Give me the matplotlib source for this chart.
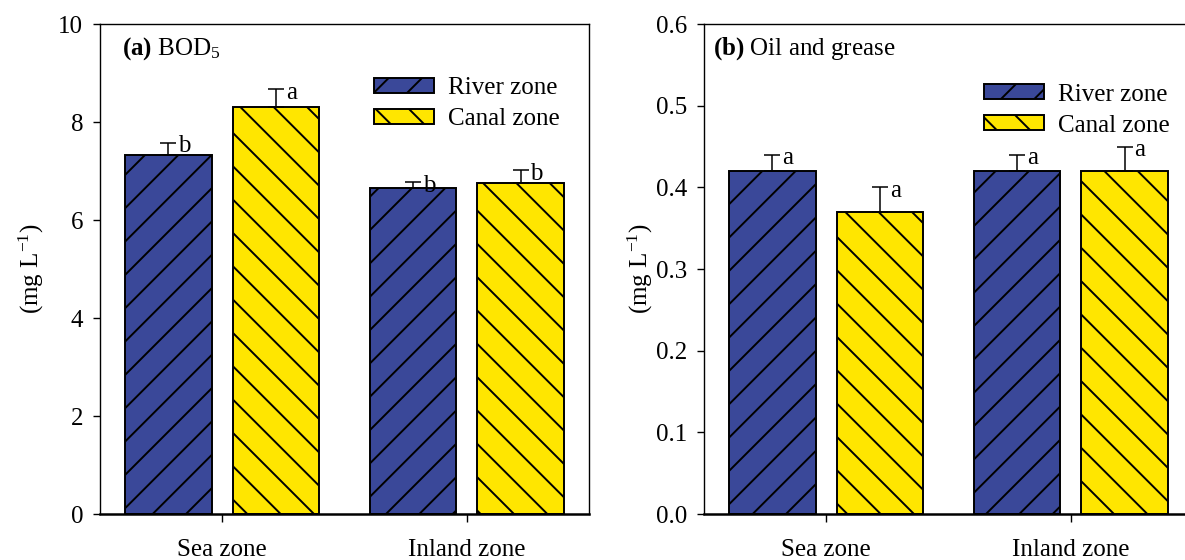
import numpy as np
import matplotlib
matplotlib.use("Agg")
from matplotlib import pyplot as plt

plt.rcParams['font.family'] = ['Liberation Serif', 'DejaVu Serif']
plt.rcParams['mathtext.fontset'] = 'custom'
plt.rcParams['mathtext.rm'] = 'Liberation Serif'
plt.rcParams['mathtext.it'] = 'Liberation Serif:italic'
plt.rcParams['mathtext.bf'] = 'Liberation Serif:bold'
plt.rcParams['hatch.linewidth'] = 1.4

# zones on the x axis
CATEGORIES = ['Sea zone', 'Inland zone']
SERIES = ['River zone', 'Canal zone']

# (a) BOD5, mg/L
BOD_RIVER = [7.33, 6.65]
BOD_RIVER_ERR = [0.25, 0.13]
BOD_CANAL = [8.31, 6.75]
BOD_CANAL_ERR = [0.36, 0.27]
BOD_RIVER_LETTERS = ['b', 'b']
BOD_CANAL_LETTERS = ['a', 'b']

# (b) oil and grease, mg/L
OIL_RIVER = [0.42, 0.42]
OIL_RIVER_ERR = [0.02, 0.02]
OIL_CANAL = [0.37, 0.42]
OIL_CANAL_ERR = [0.03, 0.03]
OIL_RIVER_LETTERS = ['a', 'a']
OIL_CANAL_LETTERS = ['a', 'a']

BLUE = '#3a4899'
YELLOW = '#ffe600'
WIDTH = 0.355
OFFSET = 0.22
FS = 18


def panel(ax, river, river_err, canal, canal_err, river_lab, canal_lab,
          title, ylim, yticks, fmt, title_x, leg_anchor):
    x = np.arange(len(CATEGORIES))
    ekw = dict(ecolor='black', elinewidth=1.1, capthick=1.1)
    ax.bar(x - OFFSET, river, WIDTH, color=BLUE, edgecolor='black',
           linewidth=1.4, hatch='/', label=SERIES[0],
           yerr=[np.zeros(len(river)), river_err], capsize=6, error_kw=ekw)
    ax.bar(x + OFFSET, canal, WIDTH, color=YELLOW, edgecolor='black',
           linewidth=1.4, hatch='\\', label=SERIES[1],
           yerr=[np.zeros(len(canal)), canal_err], capsize=6, error_kw=ekw)
    # significance letters just right of each cap
    for xi, v, e, lab in zip(x - OFFSET, river, river_err, river_lab):
        ax.annotate(lab, (xi, v + e), xytext=(7, -7), textcoords='offset points',
                    ha='left', va='baseline', fontsize=FS)
    for xi, v, e, lab in zip(x + OFFSET, canal, canal_err, canal_lab):
        ax.annotate(lab, (xi, v + e), xytext=(7, -7), textcoords='offset points',
                    ha='left', va='baseline', fontsize=FS)

    ax.set_xlim(-0.5, 1.5)
    ax.set_ylim(*ylim)
    ax.set_xticks(x)
    ax.set_xticklabels(CATEGORIES, fontsize=FS)
    ax.set_yticks(yticks)
    ax.set_yticklabels([fmt.format(t) for t in yticks], fontsize=FS)
    ax.tick_params(axis='x', length=6, width=1, pad=12)
    ax.tick_params(axis='y', length=5, width=1, pad=7)
    ax.tick_params(top=False, right=False)
    for s in ax.spines.values():
        s.set_linewidth(1.0)
    ax.spines['bottom'].set_linewidth(1.8)
    ax.set_ylabel('(mg L$^{-1}$)', fontsize=FS)
    ax.text(title_x, 0.95, title, transform=ax.transAxes, fontsize=FS,
            ha='left', va='center')
    ax.legend(loc='upper left', bbox_to_anchor=leg_anchor, frameon=False,
              fontsize=FS, handlelength=2.4, handleheight=0.55,
              handletextpad=0.55, labelspacing=0.35, borderpad=0,
              borderaxespad=0)


fig = plt.figure(figsize=(11.85, 5.6), dpi=100)
ax1 = fig.add_axes([0.0844, 0.0821, 0.4127, 0.875])
ax2 = fig.add_axes([0.5941, 0.0821, 0.4127, 0.875])

panel(ax1, BOD_RIVER, BOD_RIVER_ERR, BOD_CANAL, BOD_CANAL_ERR,
      BOD_RIVER_LETTERS, BOD_CANAL_LETTERS,
      r'$\mathbf{(a)}$ BOD$_{\mathrm{5}}$', (0, 10), [0, 2, 4, 6, 8, 10],
      '{:g}', 0.045, (0.56, 0.891))
panel(ax2, OIL_RIVER, OIL_RIVER_ERR, OIL_CANAL, OIL_CANAL_ERR,
      OIL_RIVER_LETTERS, OIL_CANAL_LETTERS,
      r'$\mathbf{(b)}$ Oil and grease', (0, 0.6),
      [0.0, 0.1, 0.2, 0.3, 0.4, 0.5, 0.6], '{:.1f}', 0.018, (0.573, 0.878))

ax1.yaxis.set_label_coords(-0.11, 0.5)
ax2.yaxis.set_label_coords(-0.1, 0.5)

fig.savefig('out.png', dpi=100)
